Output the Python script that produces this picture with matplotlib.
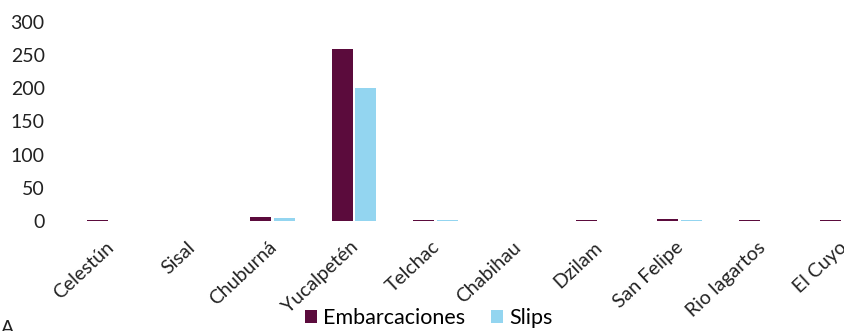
import matplotlib
matplotlib.use("Agg")
import matplotlib.pyplot as plt
import numpy as np

puertos = ["Celestún", "Sisal", "Chuburná", "Yucalpetén", "Telchac",
           "Chabihau", "Dzilam", "San Felipe", "Rio lagartos", "El Cuyo"]
embarcaciones = [2, 0, 6, 260, 2, 0, 1, 3, 1, 1]
slips = [0, 0, 5, 200, 2, 0, 0, 1, 0, 0]
yticks = [0, 50, 100, 150, 200, 250, 300]

plt.rcParams["font.family"] = ["Lato", "DejaVu Sans"]

W, H = 844, 331
fig = plt.figure(figsize=(W / 100, H / 100), dpi=100)
left, right = 69, 883
y0, y300 = 221, 22
ax = fig.add_axes([left / W, (H - y0) / H, (right - left) / W, (y0 - y300) / H])

x = np.arange(len(puertos))
bw = 0.26
gap = 0.03
ax.bar(x - bw / 2 - gap / 2, embarcaciones, bw, color="#5b0b3c", label="Embarcaciones")
ax.bar(x + bw / 2 + gap / 2, slips, bw, color="#93d5f0", label="Slips")

ax.set_xlim(-0.5, len(puertos) - 0.5)
ax.set_ylim(0, 300)
ax.set_yticks(yticks)
ax.set_yticklabels([str(v) for v in yticks], fontsize=14, color="#222222")
ax.set_xticks(x + 0.02)
ax.set_xticklabels(puertos, rotation=43, ha="right", va="center",
                   rotation_mode="anchor", fontsize=14, color="#222222")
ax.tick_params(axis="both", length=0)
ax.tick_params(axis="y", pad=17.5)
ax.tick_params(axis="x", pad=17)
for s in ax.spines.values():
    s.set_visible(False)

fig.legend(loc="center", bbox_to_anchor=(429 / W, (H - 318) / H), ncol=2,
           frameon=False, fontsize=15.5, handlelength=0.55, handleheight=0.55,
           handletextpad=0.3, columnspacing=1.2, borderpad=0)

fig.text(1 / W, (H - 328) / H, "A", fontsize=14, ha="left", va="center", color="#222222")

fig.savefig("out.png", dpi=100)
